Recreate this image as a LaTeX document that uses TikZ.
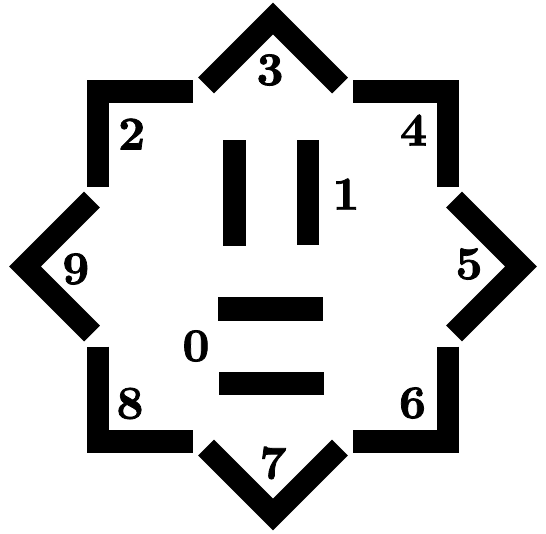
\documentclass[tikz,border=0pt]{standalone}
\usepackage{fontspec}
\newfontfamily\numfont{lmroman10-bold.otf}[FakeBold=1.6]
\begin{document}
\begin{tikzpicture}[x=1pt,y=-1pt,
  bar/.style={line width=22.5pt, line join=miter, line cap=butt},
  num/.style={font=\numfont\fontsize{47}{47}\selectfont, inner sep=0pt}]
\useasboundingbox (0,0) rectangle (546,533);
\begin{scope}[shift={(273,266.5)}]
  % corner brackets (axis-aligned square)
  \draw[bar] (-80,-175) -- (-175,-175) -- (-175,-80);
  \draw[bar] (80,-175) -- (175,-175) -- (175,-80);
  \draw[bar] (175,80) -- (175,175) -- (80,175);
  \draw[bar] (-175,80) -- (-175,175) -- (-80,175);
  % chevrons (rotated square)
  \draw[bar] (-67,-181) -- (0,-248) -- (67,-181);
  \draw[bar] (181,-67) -- (248,0) -- (181,67);
  \draw[bar] (-67,181) -- (0,248) -- (67,181);
  \draw[bar] (-181,-67) -- (-248,0) -- (-181,67);
\end{scope}
% inner bars
\fill (222.7,140) rectangle (245.7,246);
\fill (296.7,140) rectangle (319.3,245);
\fill (218.3,297.3) rectangle (323.3,320.7);
\fill (219.3,372.3) rectangle (324,395);
% labels
\node[num] (n0) at (196,346) {0};
\node[num] (n1) at (346,194) {1};
\node[num] (n2) at (131.7,134) {2};
\node[num] (n3) at (270,70) {3};
\node[num] (n4) at (413.5,130) {4};
\node[num] (n5) at (469,264) {5};
\node[num] (n6) at (412.5,403) {6};
\node[num] (n7) at (273,463) {7};
\node[num] (n8) at (130,403.5) {8};
\node[num] (n9) at (75.8,269) {9};
\end{tikzpicture}
\end{document}
